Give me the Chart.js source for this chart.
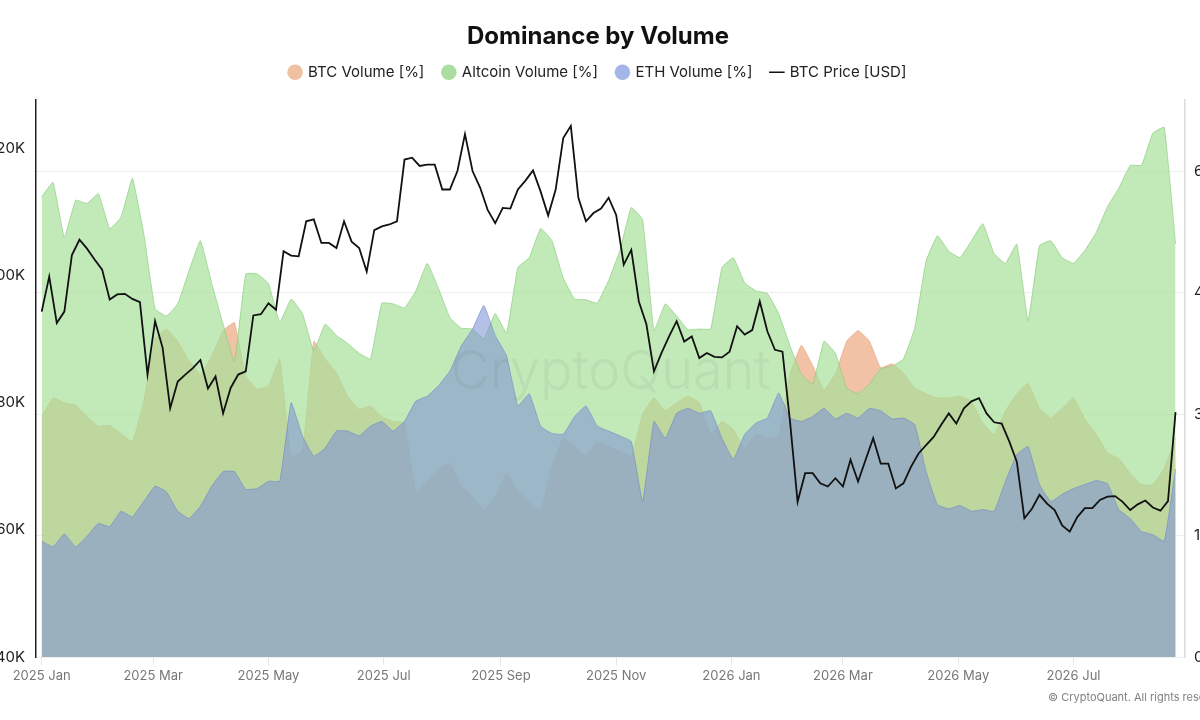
<!DOCTYPE html>
<html>
<head>
<meta charset="utf-8">
<title>Dominance by Volume</title>
<script src="https://cdn.jsdelivr.net/npm/chart.js@4.4.1/dist/chart.umd.min.js"></script>
<style>
  html, body { margin: 0; padding: 0; background: #fff; overflow: hidden; }
  #wrap { position: absolute; left: -10px; top: 0; width: 1216px; height: 720px; }
</style>
</head>
<body>
<div id="wrap"><canvas id="dominance"></canvas></div>
<script>
// x values are days since 2025-01-01
const tickDays = [0, 59, 120, 181, 243, 304, 365, 424, 485, 546];
const tickLabels = ['2025 Jan', '2025 Mar', '2025 May', '2025 Jul', '2025 Sep',
                    '2025 Nov', '2026 Jan', '2026 Mar', '2026 May', '2026 Jul'];
const priceTicks = [40000, 60000, 80000, 100000, 120000];
const pctTicks = [0, 15, 30, 45, 60];

// volume shares [%], one value every 6 days
const volStepDays = 6;
const btcVolume = [
  29.7, 32.0, 31.4, 31.1, 29.7, 28.5, 28.6, 27.6, 26.6, 31.6,
  39.3, 40.5, 39.0, 36.6, 34.9, 37.2, 40.3, 41.3, 34.7, 33.1,
  33.5, 36.8, 24.8, 25.4, 39.0, 36.8, 35.1, 32.2, 30.6, 31.0,
  29.7, 29.1, 28.9, 20.4, 21.7, 23.2, 23.9, 21.1, 19.8, 18.2,
  19.8, 22.7, 20.4, 19.2, 18.0, 23.5, 27.0, 26.0, 24.8, 26.6,
  26.0, 25.4, 24.8, 30.0, 32.0, 30.4, 31.4, 32.2, 31.4, 27.5,
  29.1, 28.1, 25.8, 27.5, 27.0, 27.2, 35.0, 38.5, 36.0, 33.0,
  35.0, 39.0, 40.3, 39.0, 35.7, 36.2, 35.1, 33.2, 32.5, 32.0,
  32.0, 32.2, 31.6, 28.9, 27.5, 30.4, 32.5, 33.8, 30.7, 29.5,
  30.7, 32.0, 29.4, 27.5, 25.2, 24.5, 22.7, 21.3, 21.3, 23.3,
  27.0
];
const altVolume = [
  56.8, 58.6, 51.8, 56.4, 56.0, 57.2, 52.9, 54.3, 59.1, 52.3,
  43.0, 42.1, 43.6, 47.7, 51.4, 46.1, 41.1, 36.5, 47.3, 47.3,
  46.1, 41.3, 44.2, 42.4, 37.8, 41.1, 39.7, 38.7, 37.5, 36.8,
  43.7, 43.6, 43.1, 45.2, 48.6, 45.5, 41.9, 40.6, 40.5, 39.3,
  42.4, 40.0, 48.1, 49.3, 52.9, 51.4, 46.8, 44.2, 44.1, 43.7,
  46.5, 50.2, 55.5, 54.0, 40.3, 43.6, 42.1, 40.4, 40.5, 40.5,
  48.1, 49.3, 46.2, 45.2, 44.9, 42.4, 38.4, 34.9, 33.7, 39.0,
  37.5, 33.2, 32.5, 33.7, 35.6, 35.9, 36.8, 40.6, 48.9, 52.0,
  50.1, 49.3, 51.4, 53.5, 49.8, 48.6, 51.0, 41.5, 50.8, 51.4,
  49.3, 48.6, 50.2, 52.4, 55.6, 57.9, 60.7, 60.7, 64.7, 65.4,
  51.0
];
const ethVolume = [
  14.3, 13.6, 15.2, 13.6, 14.9, 16.5, 16.1, 18.0, 17.3, 19.2,
  21.1, 20.4, 18.0, 17.1, 18.6, 21.1, 22.9, 22.9, 20.7, 20.8,
  21.7, 21.7, 31.4, 27.3, 24.8, 25.8, 27.9, 27.9, 27.3, 28.5,
  29.1, 27.9, 29.1, 31.6, 32.2, 33.5, 35.3, 38.4, 40.5, 43.4,
  39.7, 37.2, 31.0, 32.5, 28.5, 27.6, 27.5, 29.7, 31.0, 28.5,
  27.9, 27.3, 26.6, 19.2, 29.1, 27.0, 30.1, 30.7, 30.1, 30.4,
  27.0, 24.4, 27.5, 28.9, 29.5, 32.6, 29.5, 29.1, 29.7, 30.7,
  29.4, 30.1, 29.5, 30.7, 30.4, 29.4, 29.5, 28.7, 22.9, 18.8,
  18.3, 18.7, 18.0, 18.2, 18.0, 21.7, 25.0, 26.0, 21.3, 19.2,
  20.1, 20.8, 21.3, 21.8, 21.4, 18.2, 17.1, 15.5, 15.1, 14.3,
  23.2
];

// BTC price [K USD], one value every 4 days
const priceStepDays = 4;
const btcPriceK = [
  94.3, 99.8, 92.5, 94.3, 103.2, 105.6, 104.2, 102.5, 100.9, 96.2,
  97.0, 97.1, 96.3, 95.8, 84.4, 92.8, 88.6, 79.1, 83.3, 84.4,
  85.4, 86.7, 82.2, 84.1, 78.3, 82.3, 84.4, 84.9, 93.7, 93.9,
  95.6, 94.6, 103.8, 103.1, 103.0, 108.5, 108.8, 105.1, 105.1, 104.3,
  108.5, 105.3, 104.3, 100.6, 107.1, 107.7, 108.0, 108.5, 118.2, 118.5,
  117.2, 117.4, 117.4, 113.5, 113.5, 116.4, 122.2, 116.4, 113.8, 110.3,
  108.2, 110.6, 110.5, 113.5, 114.9, 116.5, 113.2, 109.4, 113.5, 121.6,
  123.5, 112.2, 108.5, 109.8, 110.5, 112.2, 109.5, 101.7, 104.0, 95.9,
  92.3, 84.9, 87.8, 90.4, 92.8, 89.6, 90.4, 87.0, 87.8, 87.2,
  87.1, 88.0, 92.0, 90.7, 91.4, 95.9, 91.2, 88.3, 88.0, 77.0,
  64.4, 68.9, 68.9, 67.3, 66.8, 68.1, 66.8, 71.0, 67.6, 71.0,
  74.4, 70.4, 70.4, 66.5, 67.3, 69.9, 72.0, 73.3, 74.6, 76.5,
  78.3, 76.7, 79.1, 80.2, 80.7, 78.3, 76.9, 76.7, 73.9, 70.7,
  61.8, 63.3, 65.5, 64.1, 63.1, 60.7, 59.7, 62.0, 63.4, 63.4,
  64.7, 65.2, 65.3, 64.4, 63.1, 64.0, 64.6, 63.5, 63.0, 64.5,
  78.5
];

const legendColors = ['rgb(240,192,162)', 'rgb(170,222,160)', 'rgb(164,182,232)', '#111111'];

function series(values, step, scale) {
  return values.map((v, i) => ({ x: i * step, y: v * scale }));
}

// legend sits a bit further from the plot than Chart.js puts it
const legendMargin = {
  id: 'legendMargin',
  beforeInit(chart) {
    if (!chart.legend) return;
    const fit = chart.legend.fit;
    chart.legend.fit = function () {
      fit.call(this);
      this.height += 10;
    };
  }
};

const watermark = {
  id: 'watermark',
  afterDatasetsDraw(chart) {
    const { ctx, chartArea } = chart;
    ctx.save();
    ctx.font = '300 54px Inter, sans-serif';
    ctx.fillStyle = 'rgba(110,110,110,0.10)';
    ctx.textAlign = 'center';
    ctx.textBaseline = 'middle';
    ctx.fillText('CryptoQuant', (chartArea.left + chartArea.right) / 2, chartArea.top + chartArea.height * 0.49);
    ctx.restore();
  },
  afterDraw(chart) {
    const ctx = chart.ctx;
    ctx.save();
    ctx.font = '11px Inter, sans-serif';
    ctx.fillStyle = '#808080';
    ctx.textAlign = 'left';
    ctx.textBaseline = 'middle';
    ctx.fillText('\u00A9 CryptoQuant. All rights reserved.', 1058, 698);
    ctx.restore();
  }
};

Chart.defaults.font.family = "Inter, 'Noto Sans', sans-serif";

new Chart(document.getElementById('dominance'), {
  type: 'line',
  data: {
    datasets: [
      {
        label: 'BTC Volume [%]',
        data: series(btcVolume, volStepDays, 1),
        yAxisID: 'pct',
        fill: 'origin',
        backgroundColor: 'rgba(231,144,93,0.55)',
        borderColor: 'rgba(222,140,96,0.45)',
        borderWidth: 1,
        tension: 0.1,
        order: 3
      },
      {
        label: 'Altcoin Volume [%]',
        data: series(altVolume, volStepDays, 1),
        yAxisID: 'pct',
        fill: 'origin',
        backgroundColor: 'rgba(168,225,155,0.70)',
        borderColor: 'rgba(140,205,128,0.7)',
        borderWidth: 1,
        tension: 0.1,
        order: 2
      },
      {
        label: 'ETH Volume [%]',
        data: series(ethVolume, volStepDays, 1),
        yAxisID: 'pct',
        fill: 'origin',
        backgroundColor: 'rgba(130,150,212,0.60)',
        borderColor: 'rgba(112,135,205,0.6)',
        borderWidth: 1,
        tension: 0.1,
        order: 1
      },
      {
        label: 'BTC Price [USD]',
        data: series(btcPriceK, priceStepDays, 1000),
        yAxisID: 'price',
        fill: false,
        borderColor: '#111111',
        backgroundColor: '#111111',
        borderWidth: 1.8,
        pointStyle: 'line',
        tension: 0,
        order: 0
      }
    ]
  },
  options: {
    responsive: true,
    maintainAspectRatio: false,
    animation: false,
    layout: { padding: { top: 0, left: 0, right: 0, bottom: 28 } },
    elements: { point: { radius: 0, hoverRadius: 0 } },
    plugins: {
      title: {
        display: true,
        text: 'Dominance by Volume',
        color: '#111',
        font: { size: 24, weight: 'bold' },
        padding: { top: 22, bottom: -5 }
      },
      legend: {
        display: true,
        labels: {
          usePointStyle: true,
          boxWidth: 11,
          boxHeight: 11,
          padding: 19,
          color: '#222',
          font: { size: 15 },
          sort: (a, b) => a.datasetIndex - b.datasetIndex,
          generateLabels(chart) {
            const items = Chart.defaults.plugins.legend.labels.generateLabels(chart);
            items.forEach(it => {
              const c = legendColors[it.datasetIndex];
              it.fillStyle = c;
              it.strokeStyle = c;
              it.lineWidth = it.datasetIndex === 3 ? 1.6 : 0;
            });
            return items;
          }
        }
      },
      tooltip: { enabled: false }
    },
    scales: {
      x: {
        type: 'linear',
        min: -3,
        max: 605,
        afterBuildTicks(scale) { scale.ticks = tickDays.map(v => ({ value: v })); },
        afterFit(scale) { scale.height = 35; },
        ticks: {
          autoSkip: false,
          maxRotation: 0,
          padding: 3,
          color: '#777',
          font: { size: 13 },
          callback(value) {
            const i = tickDays.indexOf(value);
            return i >= 0 ? tickLabels[i] : '';
          }
        },
        grid: { drawOnChartArea: false, drawTicks: true, tickLength: 8, color: '#e6e6e6' },
        border: { display: false }
      },
      price: {
        type: 'linear',
        position: 'left',
        min: 40000,
        max: 127600,
        afterBuildTicks(scale) { scale.ticks = priceTicks.map(v => ({ value: v })); },
        afterFit(scale) { scale.width = 46; },
        ticks: {
          padding: 11,
          color: '#222',
          font: { size: 15 },
          callback: v => (v / 1000) + 'K'
        },
        grid: { display: false, drawTicks: false },
        border: { display: true, color: '#222', width: 1.5 }
      },
      pct: {
        type: 'linear',
        position: 'right',
        min: 0,
        max: 68.8,
        afterBuildTicks(scale) { scale.ticks = pctTicks.map(v => ({ value: v })); },
        afterFit(scale) { scale.width = 21; },
        ticks: { padding: 9, color: '#222', font: { size: 15 } },
        grid: { color: '#eeeeee', drawTicks: false },
        border: { display: true, color: '#dcdcdc', width: 1.5 }
      }
    }
  },
  plugins: [legendMargin, watermark]
});
</script>
</body>
</html>
